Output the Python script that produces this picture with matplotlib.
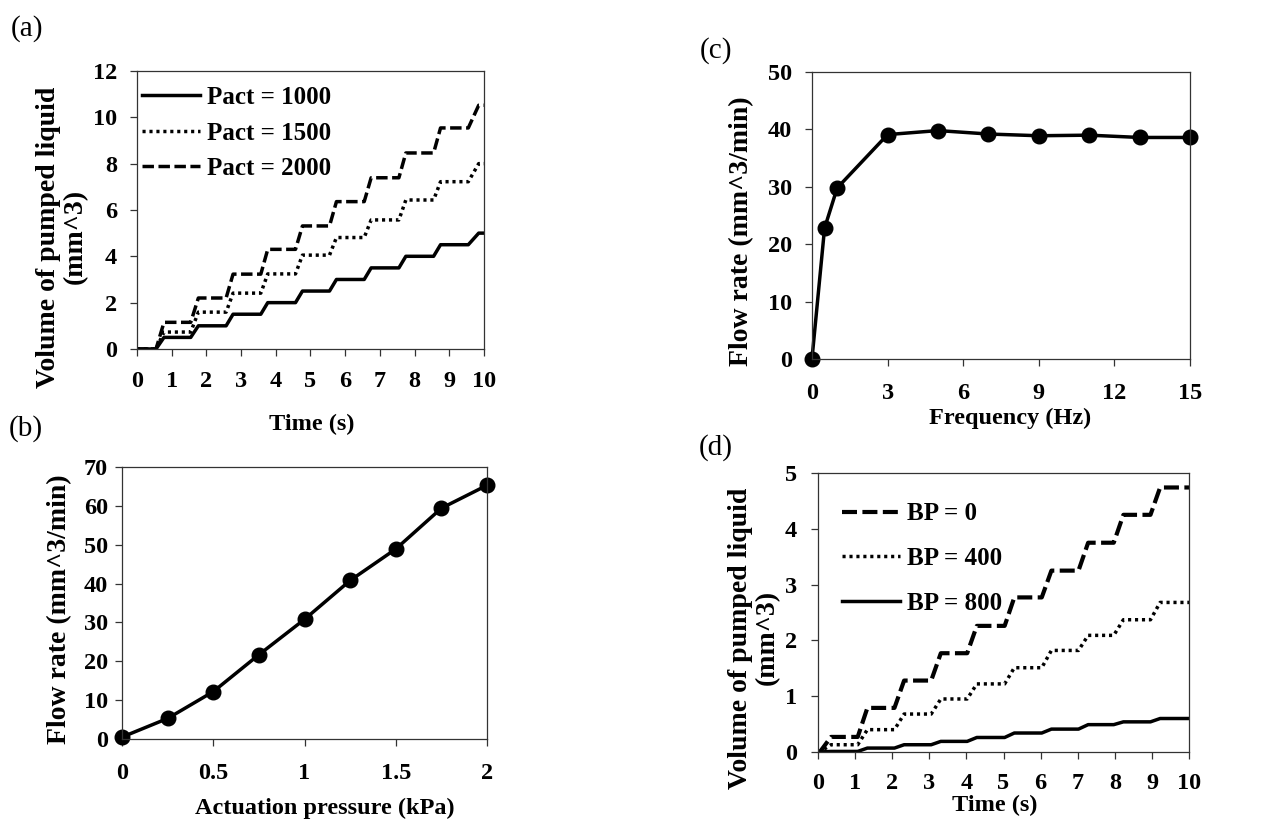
import matplotlib.pyplot as plt
import numpy as np

plt.rcParams['font.family'] = ['Liberation Serif', 'DejaVu Serif']
plt.rcParams['font.weight'] = 'bold'

# (a) volume vs time for three actuation pressures
rise_start_a = [0.55, 1.55, 2.57, 3.57, 4.57, 5.55, 6.55, 7.55, 8.55, 9.55]
rise_end_a = [0.78, 1.77, 2.77, 3.77, 4.77, 5.75, 6.75, 7.75, 8.75, 9.85]
pact_1000 = [0, 0.5, 1.0, 1.5, 2.0, 2.5, 3.0, 3.5, 4.0, 4.5, 5.0]
pact_1500 = [0, 0.73, 1.59, 2.41, 3.24, 4.05, 4.81, 5.57, 6.43, 7.22, 8.0]
pact_2000 = [0, 1.15, 2.2, 3.23, 4.3, 5.31, 6.36, 7.39, 8.46, 9.54, 10.52]

# (b) flow rate vs actuation pressure
pressure = [0, 0.25, 0.5, 0.75, 1.0, 1.25, 1.5, 1.75, 2.0]
flow_b = [0.5, 5.3, 12.2, 21.7, 30.8, 40.8, 48.9, 59.4, 65.3]

# (c) flow rate vs frequency
freq = [0, 0.5, 1, 3, 5, 7, 9, 11, 13, 15]
flow_c = [0, 22.8, 29.8, 39.1, 39.8, 39.2, 38.9, 39.0, 38.6, 38.6]

# (d) volume vs time for three back pressures
rise_start_d = [0.05, 1.07, 2.06, 3.05, 4.02, 5.03, 6.03, 7.02, 7.97, 8.96]
rise_end_d = [0.35, 1.33, 2.32, 3.31, 4.28, 5.29, 6.29, 7.28, 8.23, 9.22]
bp_0 = [0, 0.27, 0.79, 1.28, 1.77, 2.26, 2.77, 3.25, 3.75, 4.25, 4.74]
bp_400 = [0, 0.13, 0.40, 0.68, 0.95, 1.22, 1.51, 1.82, 2.09, 2.37, 2.68]
bp_800 = [0, 0.01, 0.07, 0.13, 0.19, 0.26, 0.34, 0.41, 0.49, 0.54, 0.60]


def staircase(t0, t1, levels, tmax):
    x = [0]
    y = [levels[0]]
    for i in range(len(t0)):
        x += [t0[i], t1[i]]
        y += [levels[i], levels[i + 1]]
    x.append(tmax)
    y.append(levels[-1])
    return x, y


def style(ax, xpad, ypad):
    for s in ax.spines.values():
        s.set_linewidth(0.9)
        s.set_color('#333333')
    ax.tick_params(direction='out', length=5, width=0.9, labelsize=17.5,
                   color='#333333')
    ax.tick_params(axis='x', pad=xpad)
    ax.tick_params(axis='y', pad=ypad)


fig = plt.figure(figsize=(12.87, 8.25), dpi=100)

ax_a = fig.add_axes([0.1064, 0.5770, 0.2696, 0.3370])
ax_b = fig.add_axes([0.0948, 0.1042, 0.2836, 0.3297])
ax_c = fig.add_axes([0.6309, 0.5648, 0.2937, 0.3479])
ax_d = fig.add_axes([0.6356, 0.0885, 0.2883, 0.3382])

lw = 2.5
dots = (0, (0.9, 1.1))
ylab_fs = 20

# ---- (a)
x, y = staircase(rise_start_a, rise_end_a, pact_1000, 10)
ax_a.plot(x, y, 'k-', lw=lw, label='Pact = 1000')
x, y = staircase(rise_start_a, rise_end_a, pact_1500, 10)
ax_a.plot(x, y, 'k', lw=lw, linestyle=dots, label='Pact = 1500')
x, y = staircase(rise_start_a, rise_end_a, pact_2000, 10)
ax_a.plot(x, y, 'k', lw=lw, linestyle=(0, (3.3, 1.3)), label='Pact = 2000')
ax_a.set_xlim(0, 10)
ax_a.set_ylim(0, 12)
ax_a.set_xticks(range(0, 11))
ax_a.set_yticks(range(0, 13, 2))
style(ax_a, 11, 9.5)
ax_a.legend(loc='upper left', bbox_to_anchor=(0.015, 0.945), frameon=False,
            fontsize=18, handlelength=2.3, handletextpad=0.3,
            labelspacing=0.5, borderaxespad=0, borderpad=0)
ax_a.text(0.504, -0.27, 'Time (s)', transform=ax_a.transAxes,
          ha='center', va='center', fontsize=17.5)
ax_a.text(-0.216, 0.403, 'Volume of pumped liquid\n(mm^3)',
          transform=ax_a.transAxes, rotation=90, ha='center', va='center',
          fontsize=ylab_fs, linespacing=1.1)

# ---- (b)
ax_b.plot(pressure, flow_b, 'k-', lw=lw, marker='o', ms=10.5, clip_on=False)
ax_b.set_xlim(0, 2)
ax_b.set_ylim(0, 70)
ax_b.set_xticks([0, 0.5, 1, 1.5, 2])
ax_b.set_xticklabels(['0', '0.5', '1', '1.5', '2'])
ax_b.set_yticks(range(0, 71, 10))
style(ax_b, 12, 5)
ax_b.text(0.556, -0.255, 'Actuation pressure (kPa)', transform=ax_b.transAxes,
          ha='center', va='center', fontsize=17.5)
ax_b.text(-0.17, 0.478, 'Flow rate (mm^3/min)', transform=ax_b.transAxes,
          rotation=90, ha='center', va='center', fontsize=ylab_fs)

# ---- (c)
ax_c.plot(freq, flow_c, 'k-', lw=lw, marker='o', ms=10.5, clip_on=False)
ax_c.set_xlim(0, 15)
ax_c.set_ylim(0, 50)
ax_c.set_xticks(range(0, 16, 3))
ax_c.set_yticks(range(0, 51, 10))
style(ax_c, 12, 9.5)
ax_c.text(0.524, -0.206, 'Frequency (Hz)', transform=ax_c.transAxes,
          ha='center', va='center', fontsize=17.5)
ax_c.text(-0.185, 0.446, 'Flow rate (mm^3/min)', transform=ax_c.transAxes,
          rotation=90, ha='center', va='center', fontsize=ylab_fs)

# ---- (d)
x, y = staircase(rise_start_d, rise_end_d, bp_0, 10)
ax_d.plot(x, y, 'k', lw=3.0, linestyle=(0, (3.6, 1.3)), label='BP = 0')
x, y = staircase(rise_start_d, rise_end_d, bp_400, 10)
ax_d.plot(x, y, 'k', lw=lw, linestyle=dots, label='BP = 400')
x, y = staircase(rise_start_d, rise_end_d, bp_800, 10)
ax_d.plot(x, y, 'k-', lw=lw, label='BP = 800')
ax_d.set_xlim(0, 10)
ax_d.set_ylim(0, 5)
ax_d.set_xticks(range(0, 11))
ax_d.set_yticks(range(0, 6))
style(ax_d, 10, 10)
ax_d.legend(loc='upper left', bbox_to_anchor=(0.065, 0.895), frameon=False,
            fontsize=18, handlelength=2.3, handletextpad=0.3,
            labelspacing=0.87, borderaxespad=0, borderpad=0)
ax_d.text(0.477, -0.19, 'Time (s)', transform=ax_d.transAxes,
          ha='center', va='center', fontsize=17.5)
ax_d.text(-0.172, 0.409, 'Volume of pumped liquid\n(mm^3)',
          transform=ax_d.transAxes, rotation=90, ha='center', va='center',
          fontsize=ylab_fs, linespacing=1.1)

# panel letters
for lab, px, py in [('(a)', 0.021, 0.966), ('(b)', 0.020, 0.481),
                    ('(c)', 0.556, 0.939), ('(d)', 0.556, 0.457)]:
    fig.text(px, py, lab, ha='center', va='center', fontsize=21,
             fontweight='normal')

fig.savefig('out.png', dpi=100, facecolor='white')
